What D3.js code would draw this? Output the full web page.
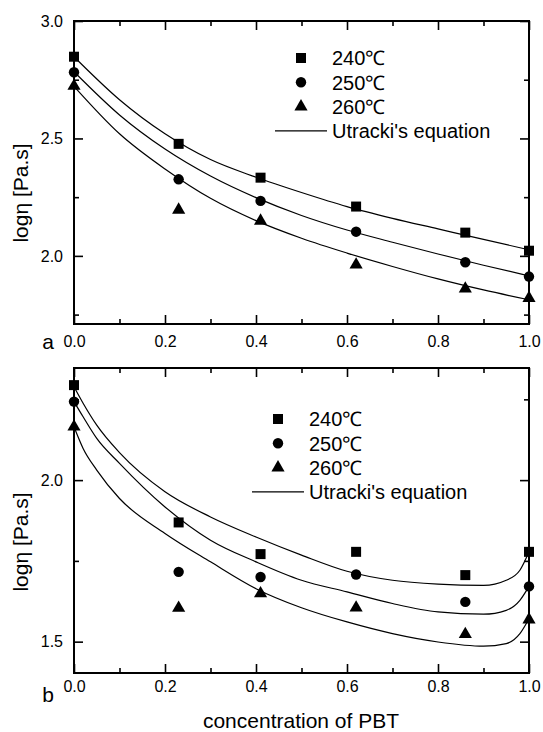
<!DOCTYPE html>
<html>
<head>
	<title>Viscosity of PBT blends</title>
	<style>
		body { margin: 0; background: #fff; }
		svg { display: block; font-family: "Liberation Sans", Arial, sans-serif; }
		.frame { fill: none; stroke: #000; stroke-width: 2px; }
		.axis path { display: none; }
		.axis line { stroke: #000; stroke-width: 1.6px; }
		.axis text { font-size: 16px; fill: #000; }
		.fit { fill: none; stroke: #000; stroke-width: 1.2px; }
		.legend text { font-size: 20px; }
	</style>
</head>
<body>
	<div id="chart"></div>
	<script src="https://cdn.jsdelivr.net/npm/d3@7"></script>
	<script>
		// PBT weight fraction of the measured blends
		var conc = [0, 0.23, 0.41, 0.62, 0.86, 1.0];
		var temps = ['240\u2103', '250\u2103', '260\u2103'];
		var fitLabel = "Utracki's equation";

		// panel a: measured log viscosity
		var a240 = [2.848, 2.477, 2.333, 2.210, 2.099, 2.022];
		var a250 = [2.782, 2.326, 2.234, 2.103, 1.973, 1.912];
		var a260 = [2.723, 2.196, 2.149, 1.962, 1.860, 1.820];

		// panel a: fitted curves
		var fitXa = [0, 0.1, 0.2, 0.3, 0.4, 0.5, 0.6, 0.7, 0.8, 0.9, 1.0];
		var fitA240 = [2.848, 2.665, 2.520, 2.410, 2.335, 2.270, 2.210, 2.160, 2.115, 2.070, 2.026];
		var fitA250 = [2.784, 2.600, 2.455, 2.340, 2.248, 2.172, 2.110, 2.058, 2.008, 1.960, 1.915];
		var fitA260 = [2.722, 2.520, 2.370, 2.245, 2.150, 2.075, 2.012, 1.955, 1.902, 1.855, 1.813];

		// panel b: measured log viscosity
		var b240 = [2.294, 1.869, 1.771, 1.778, 1.706, 1.778];
		var b250 = [2.243, 1.716, 1.700, 1.708, 1.623, 1.671];
		var b260 = [2.165, 1.604, 1.649, 1.605, 1.523, 1.568];

		// panel b: fitted curves
		var fitXb = [0, 0.02, 0.05, 0.1, 0.2, 0.3, 0.4, 0.5, 0.6, 0.7, 0.8, 0.9, 0.95, 0.98, 1.0];
		var fitB240 = [2.289, 2.238, 2.170, 2.085, 1.964, 1.886, 1.824, 1.768, 1.718, 1.690, 1.678, 1.674, 1.690, 1.721, 1.778];
		var fitB250 = [2.243, 2.196, 2.129, 2.052, 1.917, 1.814, 1.747, 1.690, 1.654, 1.618, 1.592, 1.585, 1.597, 1.628, 1.671];
		var fitB260 = [2.165, 2.098, 2.031, 1.943, 1.835, 1.747, 1.664, 1.605, 1.561, 1.525, 1.499, 1.486, 1.494, 1.525, 1.571];

		var W = 543, H = 732;
		var svg = d3.select('#chart').append('svg')
			.attr('width', W).attr('height', H);
		svg.append('rect').attr('width', W).attr('height', H).attr('fill', '#fff');

		var shapes = [d3.symbolSquare, d3.symbolCircle, d3.symbolTriangle];
		var sizes = [100, 85, 75];

		function panel(opt) {
			var x = d3.scaleLinear().domain([0, 1]).range([74, 529]);
			var y = d3.scaleLinear().domain(opt.ydomain).range([opt.bottom, opt.top]);
			var g = svg.append('g');

			var xMajor = [0, 0.2, 0.4, 0.6, 0.8, 1.0];
			var xMinor = [0.1, 0.3, 0.5, 0.7, 0.9];

			// ticks on all four sides, pointing inwards
			g.append('g').attr('class', 'axis').attr('transform', 'translate(0,' + opt.bottom + ')')
				.call(d3.axisBottom(x).tickValues(xMajor).tickSize(-9).tickPadding(opt.xpad).tickFormat(d3.format('.1f')));
			g.append('g').attr('class', 'axis').attr('transform', 'translate(0,' + opt.bottom + ')')
				.call(d3.axisBottom(x).tickValues(xMinor).tickSize(-5).tickFormat(''));
			g.append('g').attr('class', 'axis').attr('transform', 'translate(0,' + opt.top + ')')
				.call(d3.axisTop(x).tickValues(xMajor).tickSize(-9).tickFormat(''));
			g.append('g').attr('class', 'axis').attr('transform', 'translate(0,' + opt.top + ')')
				.call(d3.axisTop(x).tickValues(xMinor).tickSize(-5).tickFormat(''));

			g.append('g').attr('class', 'axis').attr('transform', 'translate(74,0)')
				.call(d3.axisLeft(y).tickValues(opt.yMajor).tickSize(-9).tickPadding(11).tickFormat(d3.format('.1f')));
			g.append('g').attr('class', 'axis').attr('transform', 'translate(74,0)')
				.call(d3.axisLeft(y).tickValues(opt.yMinor).tickSize(-5).tickFormat(''));
			g.append('g').attr('class', 'axis').attr('transform', 'translate(529,0)')
				.call(d3.axisRight(y).tickValues(opt.yMajor).tickSize(-9).tickFormat(''));
			g.append('g').attr('class', 'axis').attr('transform', 'translate(529,0)')
				.call(d3.axisRight(y).tickValues(opt.yMinor).tickSize(-5).tickFormat(''));

			g.append('rect').attr('class', 'frame')
				.attr('x', 74).attr('y', opt.top)
				.attr('width', 455).attr('height', opt.bottom - opt.top);

			// panel letter next to the first x label
			g.append('text').attr('x', 48).attr('y', opt.letterY)
				.attr('text-anchor', 'middle').style('font-size', '21px').text(opt.letter);

			g.append('text')
				.attr('transform', 'translate(28,' + opt.labelY + ') rotate(-90)')
				.attr('text-anchor', 'middle').style('font-size', '21px')
				.text('log\u03b7 [Pa.s]');

			var line = d3.line()
				.x(function (d) { return x(d[0]); })
				.y(function (d) { return y(d[1]); })
				.curve(d3.curveMonotoneX);

			opt.fits.forEach(function (f) {
				g.append('path').attr('class', 'fit')
					.datum(d3.zip(opt.fitX, f))
					.attr('d', line);
			});

			opt.series.forEach(function (s, i) {
				g.selectAll(null).data(d3.zip(conc, s)).enter()
					.append('path')
					.attr('transform', function (d) { return 'translate(' + x(d[0]) + ',' + y(d[1]) + ')'; })
					.attr('d', d3.symbol().type(shapes[i]).size(sizes[i]));
			});

			// legend
			var lg = g.append('g').attr('class', 'legend');
			temps.forEach(function (t, i) {
				var ry = opt.legY + i * 24.3;
				lg.append('path')
					.attr('transform', 'translate(' + opt.legMarkX + ',' + ry + ')')
					.attr('d', d3.symbol().type(shapes[i]).size(sizes[i]));
				lg.append('text').attr('x', opt.legTextX).attr('y', ry).attr('dy', '0.36em').text(t);
			});
			var ly = opt.legY + 3 * 24.3;
			lg.append('line')
				.attr('x1', opt.legLine[0]).attr('x2', opt.legLine[1])
				.attr('y1', ly).attr('y2', ly)
				.attr('stroke', '#000').attr('stroke-width', 1.2);
			lg.append('text').attr('x', opt.legTextX).attr('y', ly).attr('dy', '0.36em').text(fitLabel);
		}

		panel({
			top: 21, bottom: 324, ydomain: [1.71, 3.0],
			yMajor: [2.0, 2.5, 3.0], yMinor: [1.75, 2.25, 2.75],
			xpad: 12, letter: 'a', letterY: 349, labelY: 193,
			fitX: fitXa, fits: [fitA240, fitA250, fitA260],
			series: [a240, a250, a260],
			legY: 58, legMarkX: 301, legTextX: 332, legLine: [275, 327]
		});

		panel({
			top: 368, bottom: 673, ydomain: [1.403, 2.347],
			yMajor: [1.5, 2.0], yMinor: [1.75, 2.25],
			xpad: 8, letter: 'b', letterY: 702, labelY: 542,
			fitX: fitXb, fits: [fitB240, fitB250, fitB260],
			series: [b240, b250, b260],
			legY: 419, legMarkX: 278, legTextX: 309, legLine: [252, 304]
		});

		svg.append('text')
			.attr('x', 301).attr('y', 728)
			.attr('text-anchor', 'middle').style('font-size', '21px')
			.text('concentration of PBT');
	</script>
</body>
</html>
